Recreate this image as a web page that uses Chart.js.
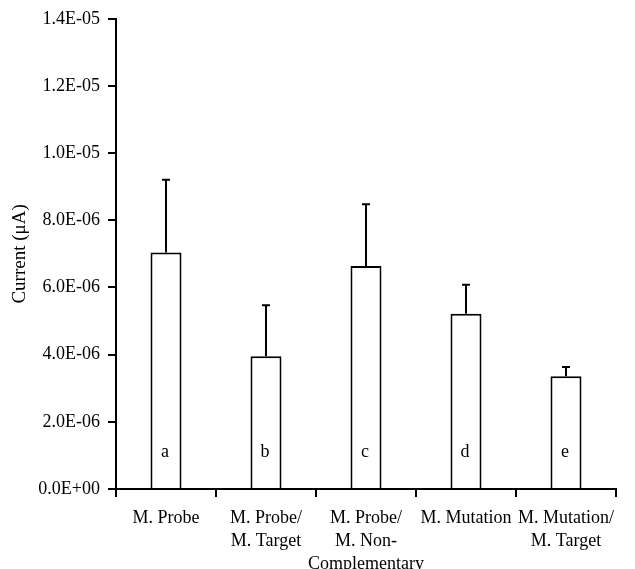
<!DOCTYPE html>
<html>
<head>
<meta charset="utf-8">
<script src="https://cdn.jsdelivr.net/npm/chart.js@4"></script>
<style>
html,body{margin:0;padding:0;background:#fff;}
#wrap{width:635px;height:569px;}
</style>
</head>
<body>
<div id="wrap"><canvas id="c" width="635" height="569"></canvas></div>
<script>
const categories = [
  'M. Probe',
  ['M. Probe/', 'M. Target'],
  ['M. Probe/', 'M. Non-', 'Complementary'],
  'M. Mutation',
  ['M. Mutation/', 'M. Target']
];
const barLetters = ['a', 'b', 'c', 'd', 'e'];
const currentValues = [7.04e-6, 3.95e-6, 6.64e-6, 5.22e-6, 3.36e-6];
const errorUpper = [2.17e-6, 1.52e-6, 1.84e-6, 0.86e-6, 0.27e-6];
const yMin = 0, yMax = 1.4e-5, yStep = 2e-6;

function sci(v) {
  if (Math.abs(v) < 1e-15) return '0.0E+00';
  const parts = v.toExponential(1).split('e');
  const n = parseInt(parts[1], 10);
  return parts[0].toUpperCase() + 'E' + (n < 0 ? '-' : '+') + String(Math.abs(n)).padStart(2, '0');
}

const FONT = 'Liberation Serif';

const errorBars = {
  id: 'errorBars',
  afterDatasetsDraw(chart) {
    const ctx = chart.ctx;
    const meta = chart.getDatasetMeta(0);
    const ys = chart.scales.y;
    ctx.save();
    ctx.strokeStyle = '#000';
    ctx.lineWidth = 2;
    meta.data.forEach((bar, i) => {
      const x = bar.x;
      const y0 = ys.getPixelForValue(currentValues[i]);
      const y1 = ys.getPixelForValue(currentValues[i] + errorUpper[i]);
      ctx.beginPath();
      ctx.moveTo(x, y0);
      ctx.lineTo(x, y1);
      ctx.moveTo(x - 4, y1);
      ctx.lineTo(x + 4, y1);
      ctx.stroke();
    });
    ctx.fillStyle = '#000';
    ctx.font = '18px "' + FONT + '"';
    ctx.textAlign = 'center';
    ctx.textBaseline = 'middle';
    meta.data.forEach((bar, i) => {
      ctx.fillText(barLetters[i], bar.x - 1, chart.chartArea.bottom - 37);
    });
    ctx.restore();
  }
};

new Chart(document.getElementById('c'), {
  type: 'bar',
  data: {
    labels: categories,
    datasets: [{
      data: currentValues,
      backgroundColor: '#fff',
      borderColor: '#000',
      borderWidth: 2,
      barPercentage: 0.31,
      categoryPercentage: 1.0
    }]
  },
  options: {
    responsive: false,
    animation: false,
    devicePixelRatio: 1,
    layout: { padding: { left: 9, top: 18, right: 19, bottom: 0 } },
    plugins: {
      legend: { display: false },
      tooltip: { enabled: false }
    },
    scales: {
      x: {
        grid: {
          offset: true,
          drawOnChartArea: false,
          drawTicks: true,
          tickLength: 8,
          color: '#000',
          lineWidth: 2
        },
        border: { color: '#000', width: 2 },
        ticks: {
          color: '#000',
          font: { family: FONT, size: 18, lineHeight: 1.28 },
          padding: 10,
          maxRotation: 0,
          minRotation: 0,
          autoSkip: false
        },
        afterFit(s) { s.height = 80; }
      },
      y: {
        min: yMin,
        max: yMax,
        grid: {
          drawOnChartArea: false,
          drawTicks: true,
          tickLength: 8,
          color: '#000',
          lineWidth: 2
        },
        border: { color: '#000', width: 2 },
        ticks: {
          stepSize: yStep,
          color: '#000',
          font: { family: FONT, size: 18 },
          padding: 8,
          callback: (v) => sci(v)
        },
        title: {
          display: true,
          text: 'Current (μA)',
          color: '#000',
          font: { family: FONT, size: 19 },
          padding: { top: 0, bottom: 4 }
        },
        afterFit(s) { s.width = 107; }
      }
    }
  },
  plugins: [errorBars]
});
</script>
</body>
</html>
